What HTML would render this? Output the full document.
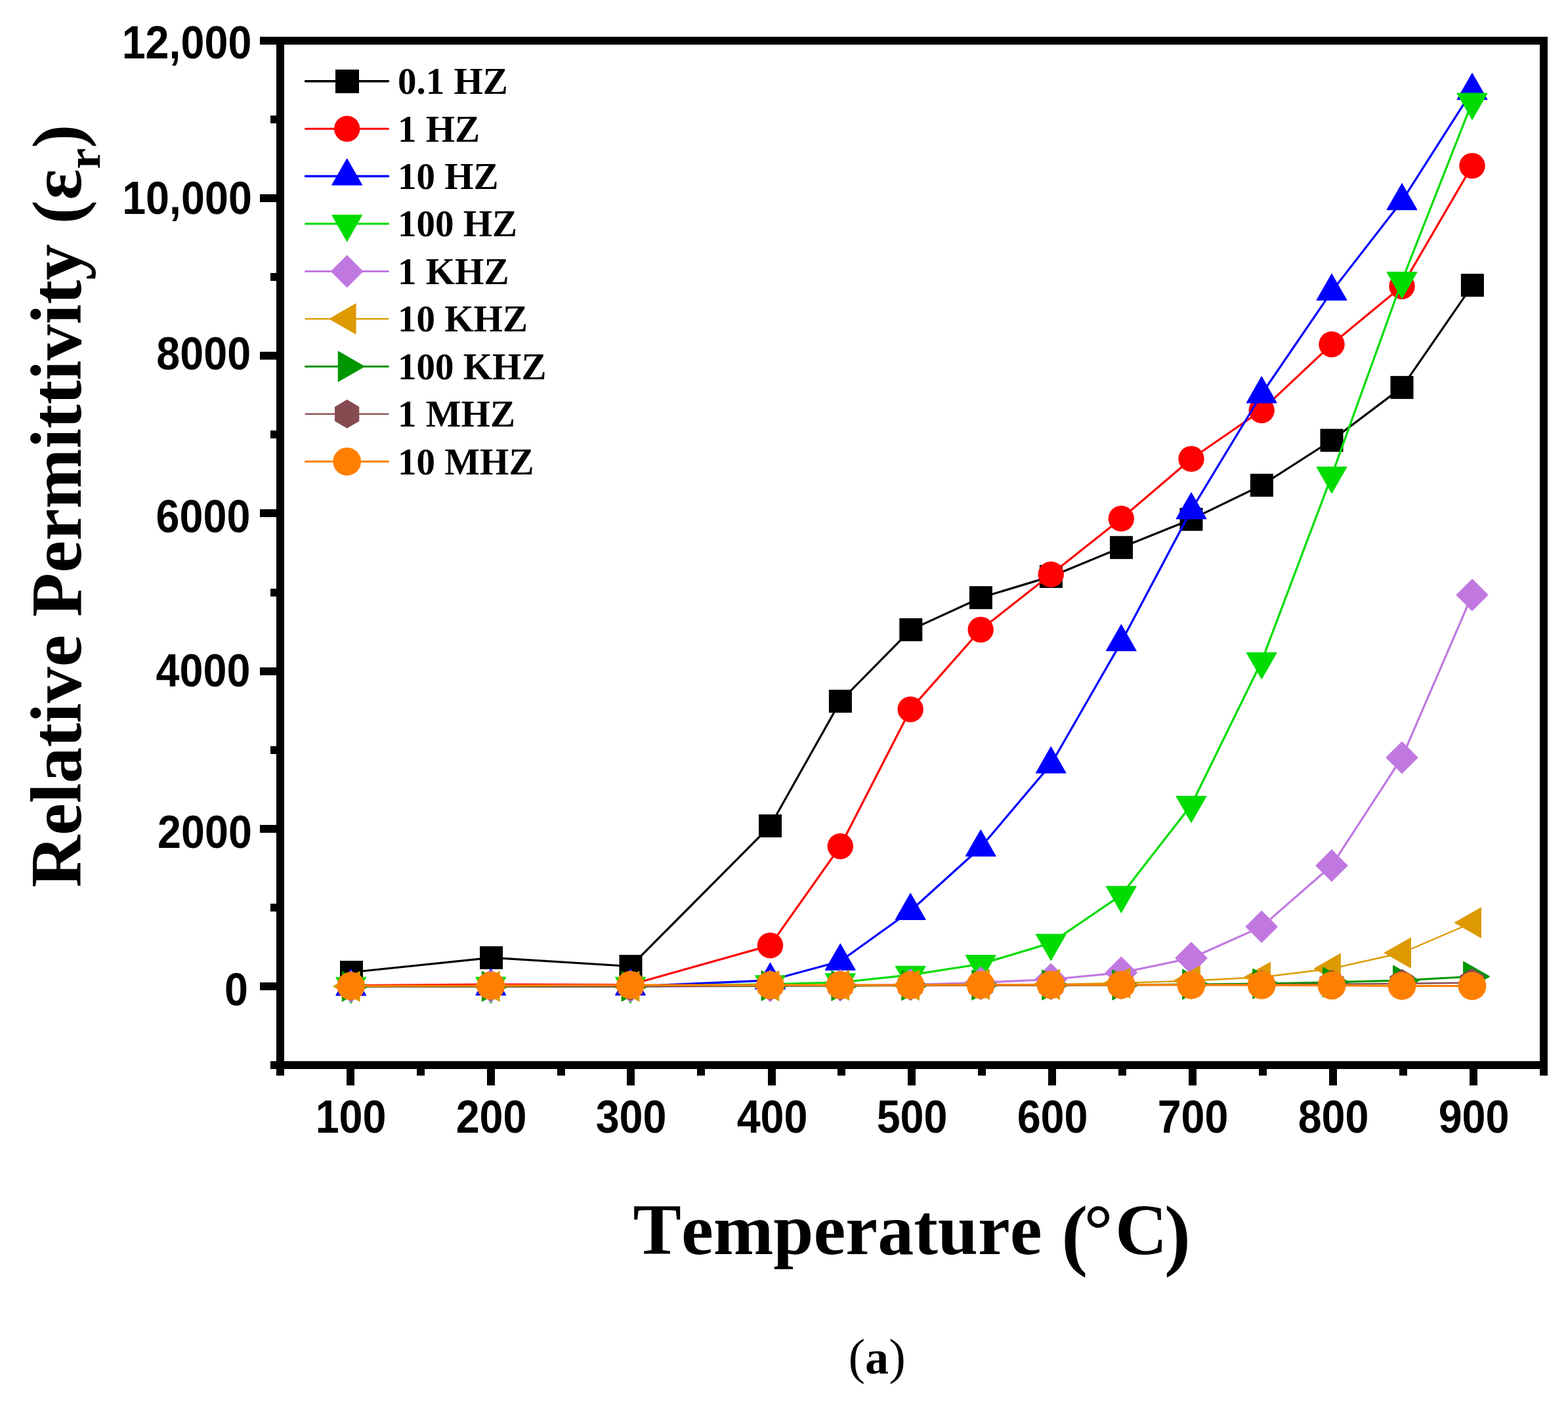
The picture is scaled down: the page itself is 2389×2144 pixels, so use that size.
<!DOCTYPE html>
<html lang="en">
<head>
<meta charset="utf-8">
<title>Relative Permittivity vs Temperature</title>
<style>
html,body{margin:0;padding:0;background:#fff;}
body{width:2389px;height:2144px;overflow:hidden;}
svg{display:block;}
text{font-kerning:none;}
.tick{font-family:"Liberation Sans",sans-serif;font-weight:700;font-size:64.7px;fill:#000;}
.ttl{font-family:"Liberation Serif",serif;font-weight:700;font-size:110px;fill:#000;}
.leg{font-family:"Liberation Serif",serif;font-weight:700;font-size:57px;fill:#000;}
.cap{font-family:"Liberation Serif",serif;font-size:81px;fill:#000;}
</style>
</head>
<body>
<svg width="2389" height="2144" viewBox="0 0 2389 2144">
<rect width="2389" height="2144" fill="#ffffff"/>

<g fill="#000" shape-rendering="crispEdges">
<rect x="421" y="56" width="12" height="1583"/>
<rect x="2346" y="56" width="12" height="1583"/>
<rect x="396" y="56" width="1962" height="12"/>
<rect x="412" y="1617" width="1946" height="12"/>
<rect x="396" y="1497" width="26" height="12"/>
<rect x="396" y="1257" width="26" height="12"/>
<rect x="396" y="1017" width="26" height="12"/>
<rect x="396" y="776" width="26" height="12"/>
<rect x="396" y="536" width="26" height="12"/>
<rect x="396" y="296" width="26" height="12"/>
<rect x="412" y="1377" width="10" height="12"/>
<rect x="412" y="1137" width="10" height="12"/>
<rect x="412" y="897" width="10" height="12"/>
<rect x="412" y="656" width="10" height="12"/>
<rect x="412" y="416" width="10" height="12"/>
<rect x="412" y="176" width="10" height="12"/>
<rect x="528" y="1628" width="12" height="26"/>
<rect x="742" y="1628" width="12" height="26"/>
<rect x="955" y="1628" width="12" height="26"/>
<rect x="1170" y="1628" width="12" height="26"/>
<rect x="1383" y="1628" width="12" height="26"/>
<rect x="1597" y="1628" width="12" height="26"/>
<rect x="1811" y="1628" width="12" height="26"/>
<rect x="2025" y="1628" width="12" height="26"/>
<rect x="2239" y="1628" width="12" height="26"/>
<rect x="635" y="1628" width="12" height="11"/>
<rect x="849" y="1628" width="12" height="11"/>
<rect x="1062" y="1628" width="12" height="11"/>
<rect x="1276" y="1628" width="12" height="11"/>
<rect x="1490" y="1628" width="12" height="11"/>
<rect x="1704" y="1628" width="12" height="11"/>
<rect x="1918" y="1628" width="12" height="11"/>
<rect x="2132" y="1628" width="12" height="11"/>
</g>
<g class="tick" text-anchor="end">
<text transform="translate(383.5 89.1) scale(1 1.087)">12,000</text>
<text transform="translate(384 325.6) scale(1 1.087)">10,000</text>
<text transform="translate(382.2 563.1) scale(1 1.087)">8000</text>
<text transform="translate(381.5 811.3) scale(1 1.087)">6000</text>
<text transform="translate(381.5 1046.3) scale(1 1.087)">4000</text>
<text transform="translate(384 1292.1) scale(1 1.087)">2000</text>
<text transform="translate(377.9 1532.1) scale(1 1.087)">0</text>
</g>
<g class="tick" text-anchor="middle">
<text transform="translate(534.6 1726.2) scale(1 1.087)">100</text>
<text transform="translate(748.6 1726.2) scale(1 1.087)">200</text>
<text transform="translate(961.6 1726.2) scale(1 1.087)">300</text>
<text transform="translate(1176.6 1726.2) scale(1 1.087)">400</text>
<text transform="translate(1389.6 1726.2) scale(1 1.087)">500</text>
<text transform="translate(1603.6 1726.2) scale(1 1.087)">600</text>
<text transform="translate(1817.6 1726.2) scale(1 1.087)">700</text>
<text transform="translate(2031.6 1726.2) scale(1 1.087)">800</text>
<text transform="translate(2245.6 1726.2) scale(1 1.087)">900</text>
</g>
<text class="ttl" text-anchor="middle" x="1389.3" y="1911">Temperature <tspan style="font-size:120px" dy="10" dx="2.2">(</tspan><tspan dy="-10" dx="-5.8">°</tspan><tspan dx="3.5">C</tspan><tspan style="font-size:120px" dy="10" dx="-4.4">)</tspan></text>
<text class="ttl" text-anchor="middle" transform="translate(123 771) rotate(-90)">Relative Permittivity <tspan style="font-size:108px" dy="0.5" dx="3.1">(</tspan><tspan dy="-0.5" dx="0.6">ε</tspan><tspan style="font-size:72px" dy="29">r</tspan><tspan style="font-size:108px" dy="-28.5" dx="0.2">)</tspan></text>
<text class="cap" y="2093"><tspan x="1292.5" style="font-size:77px">(</tspan><tspan x="1318" style="font-weight:700;font-size:72px">a</tspan><tspan x="1354.2" style="font-size:77px">)</tspan></text>
<g>
<polyline points="535.5,1481.5 748.6,1459.4 961,1472.5 1173.5,1258.5 1280.4,1068.5 1387.8,959.6 1494.4,910.7 1601.4,878.4 1708.5,834.3 1815,791.4 1922.4,739.4 2029,671 2136,590.4 2243.4,434.7" fill="none" stroke="#000000" stroke-width="3.2" stroke-linejoin="round"/>
<rect x="518" y="1464" width="35" height="35" fill="#000000"/>
<rect x="731.1" y="1441.9" width="35" height="35" fill="#000000"/>
<rect x="943.5" y="1455" width="35" height="35" fill="#000000"/>
<rect x="1156" y="1241" width="35" height="35" fill="#000000"/>
<rect x="1262.9" y="1051" width="35" height="35" fill="#000000"/>
<rect x="1370.3" y="942.1" width="35" height="35" fill="#000000"/>
<rect x="1476.9" y="893.2" width="35" height="35" fill="#000000"/>
<rect x="1583.9" y="860.9" width="35" height="35" fill="#000000"/>
<rect x="1691" y="816.8" width="35" height="35" fill="#000000"/>
<rect x="1797.5" y="773.9" width="35" height="35" fill="#000000"/>
<rect x="1904.9" y="721.9" width="35" height="35" fill="#000000"/>
<rect x="2011.5" y="653.5" width="35" height="35" fill="#000000"/>
<rect x="2118.5" y="572.9" width="35" height="35" fill="#000000"/>
<rect x="2225.9" y="417.2" width="35" height="35" fill="#000000"/>
</g>
<g>
<polyline points="534.7,1501.5 747.8,1500 960.5,1500.5 1173.5,1440.6 1280.3,1289.5 1387.2,1080.9 1494.2,959.5 1601.2,875.3 1708.3,790.3 1815,699.3 1922.2,625.2 2029,524.7 2136,436.2 2243,252.6" fill="none" stroke="#ff0000" stroke-width="3.2" stroke-linejoin="round"/>
<circle cx="534.7" cy="1501.5" r="19.7" fill="#ff0000"/>
<circle cx="747.8" cy="1500" r="19.7" fill="#ff0000"/>
<circle cx="960.5" cy="1500.5" r="19.7" fill="#ff0000"/>
<circle cx="1173.5" cy="1440.6" r="19.7" fill="#ff0000"/>
<circle cx="1280.3" cy="1289.5" r="19.7" fill="#ff0000"/>
<circle cx="1387.2" cy="1080.9" r="19.7" fill="#ff0000"/>
<circle cx="1494.2" cy="959.5" r="19.7" fill="#ff0000"/>
<circle cx="1601.2" cy="875.3" r="19.7" fill="#ff0000"/>
<circle cx="1708.3" cy="790.3" r="19.7" fill="#ff0000"/>
<circle cx="1815" cy="699.3" r="19.7" fill="#ff0000"/>
<circle cx="1922.2" cy="625.2" r="19.7" fill="#ff0000"/>
<circle cx="2029" cy="524.7" r="19.7" fill="#ff0000"/>
<circle cx="2136" cy="436.2" r="19.7" fill="#ff0000"/>
<circle cx="2243" cy="252.6" r="19.7" fill="#ff0000"/>
</g>
<g>
<polyline points="534.7,1503.5 747.8,1503 960.5,1503 1173.5,1493.8 1280.3,1464.8 1387.2,1388 1494.2,1291.3 1601.2,1164.7 1708.3,978.4 1815,777.3 1922.2,600.5 2029,444.1 2136,306.3 2243,138.3" fill="none" stroke="#0000ff" stroke-width="3.2" stroke-linejoin="round"/>
<polygon points="534.7,1476.9 557.5,1516.8 511.9,1516.8" fill="#0000ff" stroke="#0000ff" stroke-width="1.2" stroke-linejoin="round"/>
<polygon points="747.8,1476.4 770.6,1516.3 725,1516.3" fill="#0000ff" stroke="#0000ff" stroke-width="1.2" stroke-linejoin="round"/>
<polygon points="960.5,1476.4 983.3,1516.3 937.7,1516.3" fill="#0000ff" stroke="#0000ff" stroke-width="1.2" stroke-linejoin="round"/>
<polygon points="1173.5,1467.2 1196.3,1507.1 1150.7,1507.1" fill="#0000ff" stroke="#0000ff" stroke-width="1.2" stroke-linejoin="round"/>
<polygon points="1280.3,1438.2 1303.1,1478.1 1257.5,1478.1" fill="#0000ff" stroke="#0000ff" stroke-width="1.2" stroke-linejoin="round"/>
<polygon points="1387.2,1361.4 1410,1401.3 1364.4,1401.3" fill="#0000ff" stroke="#0000ff" stroke-width="1.2" stroke-linejoin="round"/>
<polygon points="1494.2,1264.7 1517,1304.6 1471.4,1304.6" fill="#0000ff" stroke="#0000ff" stroke-width="1.2" stroke-linejoin="round"/>
<polygon points="1601.2,1138.1 1624,1178 1578.4,1178" fill="#0000ff" stroke="#0000ff" stroke-width="1.2" stroke-linejoin="round"/>
<polygon points="1708.3,951.8 1731.1,991.7 1685.5,991.7" fill="#0000ff" stroke="#0000ff" stroke-width="1.2" stroke-linejoin="round"/>
<polygon points="1815,750.7 1837.8,790.6 1792.2,790.6" fill="#0000ff" stroke="#0000ff" stroke-width="1.2" stroke-linejoin="round"/>
<polygon points="1922.2,573.9 1945,613.8 1899.4,613.8" fill="#0000ff" stroke="#0000ff" stroke-width="1.2" stroke-linejoin="round"/>
<polygon points="2029,417.5 2051.8,457.4 2006.2,457.4" fill="#0000ff" stroke="#0000ff" stroke-width="1.2" stroke-linejoin="round"/>
<polygon points="2136,279.7 2158.8,319.6 2113.2,319.6" fill="#0000ff" stroke="#0000ff" stroke-width="1.2" stroke-linejoin="round"/>
<polygon points="2243,111.7 2265.8,151.6 2220.2,151.6" fill="#0000ff" stroke="#0000ff" stroke-width="1.2" stroke-linejoin="round"/>
</g>
<g>
<polyline points="534.7,1502.6 747.8,1502.5 960.5,1502.5 1173.5,1499.8 1280.3,1497 1387.2,1485.7 1494.2,1469 1601.2,1436.9 1708.3,1364 1815,1226.7 1922.2,1007.9 2029,724.9 2136,428 2243,155.5" fill="none" stroke="#00dc00" stroke-width="3.2" stroke-linejoin="round"/>
<polygon points="534.7,1529.2 557.5,1489.3 511.9,1489.3" fill="#00dc00" stroke="#00dc00" stroke-width="1.2" stroke-linejoin="round"/>
<polygon points="747.8,1529.1 770.6,1489.2 725,1489.2" fill="#00dc00" stroke="#00dc00" stroke-width="1.2" stroke-linejoin="round"/>
<polygon points="960.5,1529.1 983.3,1489.2 937.7,1489.2" fill="#00dc00" stroke="#00dc00" stroke-width="1.2" stroke-linejoin="round"/>
<polygon points="1173.5,1526.4 1196.3,1486.5 1150.7,1486.5" fill="#00dc00" stroke="#00dc00" stroke-width="1.2" stroke-linejoin="round"/>
<polygon points="1280.3,1523.6 1303.1,1483.7 1257.5,1483.7" fill="#00dc00" stroke="#00dc00" stroke-width="1.2" stroke-linejoin="round"/>
<polygon points="1387.2,1512.3 1410,1472.4 1364.4,1472.4" fill="#00dc00" stroke="#00dc00" stroke-width="1.2" stroke-linejoin="round"/>
<polygon points="1494.2,1495.6 1517,1455.7 1471.4,1455.7" fill="#00dc00" stroke="#00dc00" stroke-width="1.2" stroke-linejoin="round"/>
<polygon points="1601.2,1463.5 1624,1423.6 1578.4,1423.6" fill="#00dc00" stroke="#00dc00" stroke-width="1.2" stroke-linejoin="round"/>
<polygon points="1708.3,1390.6 1731.1,1350.7 1685.5,1350.7" fill="#00dc00" stroke="#00dc00" stroke-width="1.2" stroke-linejoin="round"/>
<polygon points="1815,1253.3 1837.8,1213.4 1792.2,1213.4" fill="#00dc00" stroke="#00dc00" stroke-width="1.2" stroke-linejoin="round"/>
<polygon points="1922.2,1034.5 1945,994.6 1899.4,994.6" fill="#00dc00" stroke="#00dc00" stroke-width="1.2" stroke-linejoin="round"/>
<polygon points="2029,751.5 2051.8,711.6 2006.2,711.6" fill="#00dc00" stroke="#00dc00" stroke-width="1.2" stroke-linejoin="round"/>
<polygon points="2136,454.6 2158.8,414.7 2113.2,414.7" fill="#00dc00" stroke="#00dc00" stroke-width="1.2" stroke-linejoin="round"/>
<polygon points="2243,182.1 2265.8,142.2 2220.2,142.2" fill="#00dc00" stroke="#00dc00" stroke-width="1.2" stroke-linejoin="round"/>
</g>
<g>
<polyline points="534.7,1503.3 747.8,1503 960.5,1503 1173.5,1502.4 1280.3,1501.6 1387.2,1500.5 1494.2,1497.3 1601.2,1492.5 1708.3,1482.2 1815,1460 1922.2,1412.1 2029,1319 2136,1154.4 2243,906.6" fill="none" stroke="#c078e0" stroke-width="3.2" stroke-linejoin="round"/>
<polygon points="534.7,1479.3 558.7,1503.3 534.7,1527.3 510.7,1503.3" fill="#c078e0" stroke="#c078e0" stroke-width="1.2" stroke-linejoin="round"/>
<polygon points="747.8,1479 771.8,1503 747.8,1527 723.8,1503" fill="#c078e0" stroke="#c078e0" stroke-width="1.2" stroke-linejoin="round"/>
<polygon points="960.5,1479 984.5,1503 960.5,1527 936.5,1503" fill="#c078e0" stroke="#c078e0" stroke-width="1.2" stroke-linejoin="round"/>
<polygon points="1173.5,1478.4 1197.5,1502.4 1173.5,1526.4 1149.5,1502.4" fill="#c078e0" stroke="#c078e0" stroke-width="1.2" stroke-linejoin="round"/>
<polygon points="1280.3,1477.6 1304.3,1501.6 1280.3,1525.6 1256.3,1501.6" fill="#c078e0" stroke="#c078e0" stroke-width="1.2" stroke-linejoin="round"/>
<polygon points="1387.2,1476.5 1411.2,1500.5 1387.2,1524.5 1363.2,1500.5" fill="#c078e0" stroke="#c078e0" stroke-width="1.2" stroke-linejoin="round"/>
<polygon points="1494.2,1473.3 1518.2,1497.3 1494.2,1521.3 1470.2,1497.3" fill="#c078e0" stroke="#c078e0" stroke-width="1.2" stroke-linejoin="round"/>
<polygon points="1601.2,1468.5 1625.2,1492.5 1601.2,1516.5 1577.2,1492.5" fill="#c078e0" stroke="#c078e0" stroke-width="1.2" stroke-linejoin="round"/>
<polygon points="1708.3,1458.2 1732.3,1482.2 1708.3,1506.2 1684.3,1482.2" fill="#c078e0" stroke="#c078e0" stroke-width="1.2" stroke-linejoin="round"/>
<polygon points="1815,1436 1839,1460 1815,1484 1791,1460" fill="#c078e0" stroke="#c078e0" stroke-width="1.2" stroke-linejoin="round"/>
<polygon points="1922.2,1388.1 1946.2,1412.1 1922.2,1436.1 1898.2,1412.1" fill="#c078e0" stroke="#c078e0" stroke-width="1.2" stroke-linejoin="round"/>
<polygon points="2029,1295 2053,1319 2029,1343 2005,1319" fill="#c078e0" stroke="#c078e0" stroke-width="1.2" stroke-linejoin="round"/>
<polygon points="2136,1130.4 2160,1154.4 2136,1178.4 2112,1154.4" fill="#c078e0" stroke="#c078e0" stroke-width="1.2" stroke-linejoin="round"/>
<polygon points="2243,882.6 2267,906.6 2243,930.6 2219,906.6" fill="#c078e0" stroke="#c078e0" stroke-width="1.2" stroke-linejoin="round"/>
</g>
<g>
<polyline points="534.7,1503 747.8,1503 960.5,1503 1173.5,1502.1 1280.3,1501.3 1387.2,1501.3 1494.2,1500.1 1601.2,1500.1 1708.3,1498 1815,1494.5 1922.2,1489 2029,1476 2136,1452 2243,1406" fill="none" stroke="#dc9a00" stroke-width="2.4" stroke-linejoin="round"/>
<polygon points="508.1,1503 548,1480.2 548,1525.8" fill="#dc9a00" stroke="#dc9a00" stroke-width="1.2" stroke-linejoin="round"/>
<polygon points="721.2,1503 761.1,1480.2 761.1,1525.8" fill="#dc9a00" stroke="#dc9a00" stroke-width="1.2" stroke-linejoin="round"/>
<polygon points="933.9,1503 973.8,1480.2 973.8,1525.8" fill="#dc9a00" stroke="#dc9a00" stroke-width="1.2" stroke-linejoin="round"/>
<polygon points="1146.9,1502.1 1186.8,1479.3 1186.8,1524.9" fill="#dc9a00" stroke="#dc9a00" stroke-width="1.2" stroke-linejoin="round"/>
<polygon points="1253.7,1501.3 1293.6,1478.5 1293.6,1524.1" fill="#dc9a00" stroke="#dc9a00" stroke-width="1.2" stroke-linejoin="round"/>
<polygon points="1360.6,1501.3 1400.5,1478.5 1400.5,1524.1" fill="#dc9a00" stroke="#dc9a00" stroke-width="1.2" stroke-linejoin="round"/>
<polygon points="1467.6,1500.1 1507.5,1477.3 1507.5,1522.9" fill="#dc9a00" stroke="#dc9a00" stroke-width="1.2" stroke-linejoin="round"/>
<polygon points="1574.6,1500.1 1614.5,1477.3 1614.5,1522.9" fill="#dc9a00" stroke="#dc9a00" stroke-width="1.2" stroke-linejoin="round"/>
<polygon points="1681.7,1498 1721.6,1475.2 1721.6,1520.8" fill="#dc9a00" stroke="#dc9a00" stroke-width="1.2" stroke-linejoin="round"/>
<polygon points="1788.4,1494.5 1828.3,1471.7 1828.3,1517.3" fill="#dc9a00" stroke="#dc9a00" stroke-width="1.2" stroke-linejoin="round"/>
<polygon points="1895.6,1489 1935.5,1466.2 1935.5,1511.8" fill="#dc9a00" stroke="#dc9a00" stroke-width="1.2" stroke-linejoin="round"/>
<polygon points="2002.4,1476 2042.3,1453.2 2042.3,1498.8" fill="#dc9a00" stroke="#dc9a00" stroke-width="1.2" stroke-linejoin="round"/>
<polygon points="2109.4,1452 2149.3,1429.2 2149.3,1474.8" fill="#dc9a00" stroke="#dc9a00" stroke-width="1.2" stroke-linejoin="round"/>
<polygon points="2216.4,1406 2256.3,1383.2 2256.3,1428.8" fill="#dc9a00" stroke="#dc9a00" stroke-width="1.2" stroke-linejoin="round"/>
</g>
<g>
<polyline points="534.7,1503 747.8,1503 960.5,1503 1173.5,1502 1280.3,1502 1387.2,1501.5 1494.2,1500.9 1601.2,1500.9 1708.3,1500.9 1815,1500 1922.2,1499 2029,1496.8 2136,1494 2243,1488" fill="none" stroke="#009600" stroke-width="3.2" stroke-linejoin="round"/>
<polygon points="561.3,1503 521.4,1480.2 521.4,1525.8" fill="#009600" stroke="#009600" stroke-width="1.2" stroke-linejoin="round"/>
<polygon points="774.4,1503 734.5,1480.2 734.5,1525.8" fill="#009600" stroke="#009600" stroke-width="1.2" stroke-linejoin="round"/>
<polygon points="987.1,1503 947.2,1480.2 947.2,1525.8" fill="#009600" stroke="#009600" stroke-width="1.2" stroke-linejoin="round"/>
<polygon points="1200.1,1502 1160.2,1479.2 1160.2,1524.8" fill="#009600" stroke="#009600" stroke-width="1.2" stroke-linejoin="round"/>
<polygon points="1306.9,1502 1267,1479.2 1267,1524.8" fill="#009600" stroke="#009600" stroke-width="1.2" stroke-linejoin="round"/>
<polygon points="1413.8,1501.5 1373.9,1478.7 1373.9,1524.3" fill="#009600" stroke="#009600" stroke-width="1.2" stroke-linejoin="round"/>
<polygon points="1520.8,1500.9 1480.9,1478.1 1480.9,1523.7" fill="#009600" stroke="#009600" stroke-width="1.2" stroke-linejoin="round"/>
<polygon points="1627.8,1500.9 1587.9,1478.1 1587.9,1523.7" fill="#009600" stroke="#009600" stroke-width="1.2" stroke-linejoin="round"/>
<polygon points="1734.9,1500.9 1695,1478.1 1695,1523.7" fill="#009600" stroke="#009600" stroke-width="1.2" stroke-linejoin="round"/>
<polygon points="1841.6,1500 1801.7,1477.2 1801.7,1522.8" fill="#009600" stroke="#009600" stroke-width="1.2" stroke-linejoin="round"/>
<polygon points="1948.8,1499 1908.9,1476.2 1908.9,1521.8" fill="#009600" stroke="#009600" stroke-width="1.2" stroke-linejoin="round"/>
<polygon points="2055.6,1496.8 2015.7,1474 2015.7,1519.6" fill="#009600" stroke="#009600" stroke-width="1.2" stroke-linejoin="round"/>
<polygon points="2162.6,1494 2122.7,1471.2 2122.7,1516.8" fill="#009600" stroke="#009600" stroke-width="1.2" stroke-linejoin="round"/>
<polygon points="2269.6,1488 2229.7,1465.2 2229.7,1510.8" fill="#009600" stroke="#009600" stroke-width="1.2" stroke-linejoin="round"/>
</g>
<g>
<polyline points="534.7,1503 747.8,1503 960.5,1503 1173.5,1502 1280.3,1502 1387.2,1502 1494.2,1501.5 1601.2,1501.5 1708.3,1501 1815,1500.8 1922.2,1500.2 2029,1499.7 2136,1498.7 2243,1497.5" fill="none" stroke="#864b50" stroke-width="2.4" stroke-linejoin="round"/>
<polygon points="534.7,1481.7 552.7,1492.3 552.7,1513.7 534.7,1524.3 516.7,1513.7 516.7,1492.3" fill="#864b50" stroke="#864b50" stroke-width="1.2" stroke-linejoin="round"/>
<polygon points="747.8,1481.7 765.8,1492.3 765.8,1513.7 747.8,1524.3 729.8,1513.7 729.8,1492.3" fill="#864b50" stroke="#864b50" stroke-width="1.2" stroke-linejoin="round"/>
<polygon points="960.5,1481.7 978.5,1492.3 978.5,1513.7 960.5,1524.3 942.5,1513.7 942.5,1492.3" fill="#864b50" stroke="#864b50" stroke-width="1.2" stroke-linejoin="round"/>
<polygon points="1173.5,1480.7 1191.5,1491.3 1191.5,1512.7 1173.5,1523.3 1155.5,1512.7 1155.5,1491.3" fill="#864b50" stroke="#864b50" stroke-width="1.2" stroke-linejoin="round"/>
<polygon points="1280.3,1480.7 1298.3,1491.3 1298.3,1512.7 1280.3,1523.3 1262.3,1512.7 1262.3,1491.3" fill="#864b50" stroke="#864b50" stroke-width="1.2" stroke-linejoin="round"/>
<polygon points="1387.2,1480.7 1405.2,1491.3 1405.2,1512.7 1387.2,1523.3 1369.2,1512.7 1369.2,1491.3" fill="#864b50" stroke="#864b50" stroke-width="1.2" stroke-linejoin="round"/>
<polygon points="1494.2,1480.2 1512.2,1490.8 1512.2,1512.2 1494.2,1522.8 1476.2,1512.2 1476.2,1490.8" fill="#864b50" stroke="#864b50" stroke-width="1.2" stroke-linejoin="round"/>
<polygon points="1601.2,1480.2 1619.2,1490.8 1619.2,1512.2 1601.2,1522.8 1583.2,1512.2 1583.2,1490.8" fill="#864b50" stroke="#864b50" stroke-width="1.2" stroke-linejoin="round"/>
<polygon points="1708.3,1479.7 1726.3,1490.3 1726.3,1511.7 1708.3,1522.3 1690.3,1511.7 1690.3,1490.3" fill="#864b50" stroke="#864b50" stroke-width="1.2" stroke-linejoin="round"/>
<polygon points="1815,1479.5 1833,1490.1 1833,1511.5 1815,1522.1 1797,1511.5 1797,1490.1" fill="#864b50" stroke="#864b50" stroke-width="1.2" stroke-linejoin="round"/>
<polygon points="1922.2,1478.9 1940.2,1489.5 1940.2,1510.9 1922.2,1521.5 1904.2,1510.9 1904.2,1489.5" fill="#864b50" stroke="#864b50" stroke-width="1.2" stroke-linejoin="round"/>
<polygon points="2029,1478.4 2047,1489 2047,1510.4 2029,1521 2011,1510.4 2011,1489" fill="#864b50" stroke="#864b50" stroke-width="1.2" stroke-linejoin="round"/>
<polygon points="2136,1477.4 2154,1488 2154,1509.4 2136,1520 2118,1509.4 2118,1488" fill="#864b50" stroke="#864b50" stroke-width="1.2" stroke-linejoin="round"/>
<polygon points="2243,1476.2 2261,1486.8 2261,1508.2 2243,1518.8 2225,1508.2 2225,1486.8" fill="#864b50" stroke="#864b50" stroke-width="1.2" stroke-linejoin="round"/>
</g>
<g>
<polyline points="534.7,1502.4 747.8,1502 960.5,1501 1173.5,1501.2 1280.3,1501.2 1387.2,1501.2 1494.2,1500.7 1601.2,1500.7 1708.3,1500.7 1815,1501 1922.2,1501.2 2029,1501.7 2136,1502.3 2243,1502.5" fill="none" stroke="#ff8000" stroke-width="3.2" stroke-linejoin="round"/>
<circle cx="534.7" cy="1502.4" r="21.4" fill="#ff8000"/>
<circle cx="747.8" cy="1502" r="21.4" fill="#ff8000"/>
<circle cx="960.5" cy="1501" r="21.4" fill="#ff8000"/>
<circle cx="1173.5" cy="1501.2" r="21.4" fill="#ff8000"/>
<circle cx="1280.3" cy="1501.2" r="21.4" fill="#ff8000"/>
<circle cx="1387.2" cy="1501.2" r="21.4" fill="#ff8000"/>
<circle cx="1494.2" cy="1500.7" r="21.4" fill="#ff8000"/>
<circle cx="1601.2" cy="1500.7" r="21.4" fill="#ff8000"/>
<circle cx="1708.3" cy="1500.7" r="21.4" fill="#ff8000"/>
<circle cx="1815" cy="1501" r="21.4" fill="#ff8000"/>
<circle cx="1922.2" cy="1501.2" r="21.4" fill="#ff8000"/>
<circle cx="2029" cy="1501.7" r="21.4" fill="#ff8000"/>
<circle cx="2136" cy="1502.3" r="21.4" fill="#ff8000"/>
<circle cx="2243" cy="1502.5" r="21.4" fill="#ff8000"/>
</g>
<g>
<line x1="465.5" y1="123.7" x2="591.5" y2="123.7" stroke="#000000" stroke-width="3.5" stroke-linecap="round"/>
<rect x="511" y="106" width="36" height="36" fill="#000000" shape-rendering="crispEdges"/>
<text class="leg" x="606" y="143">0.1 HZ</text>
<line x1="465.5" y1="196.2" x2="591.5" y2="196.2" stroke="#ff0000" stroke-width="3.0" stroke-linecap="round"/>
<circle cx="528.7" cy="196.2" r="19.7" fill="#ff0000"/>
<text class="leg" x="606" y="215.5">1 HZ</text>
<line x1="465.5" y1="268.6" x2="591.5" y2="268.6" stroke="#0000ff" stroke-width="3.5" stroke-linecap="round"/>
<polygon points="528.7,242 551.5,281.9 505.9,281.9" fill="#0000ff" stroke="#0000ff" stroke-width="1.2" stroke-linejoin="round"/>
<text class="leg" x="606" y="287.9">10 HZ</text>
<line x1="465.5" y1="341.1" x2="591.5" y2="341.1" stroke="#00dc00" stroke-width="3.0" stroke-linecap="round"/>
<polygon points="528.7,367.7 551.5,327.8 505.9,327.8" fill="#00dc00" stroke="#00dc00" stroke-width="1.2" stroke-linejoin="round"/>
<text class="leg" x="606" y="360.4">100 HZ</text>
<line x1="465.5" y1="413.5" x2="591.5" y2="413.5" stroke="#c078e0" stroke-width="3.0" stroke-linecap="round"/>
<polygon points="528.7,389.5 552.7,413.5 528.7,437.5 504.7,413.5" fill="#c078e0" stroke="#c078e0" stroke-width="1.2" stroke-linejoin="round"/>
<text class="leg" x="606" y="432.8">1 KHZ</text>
<line x1="465.5" y1="485.9" x2="591.5" y2="485.9" stroke="#dc9a00" stroke-width="2.2" stroke-linecap="round"/>
<polygon points="502.1,485.9 542,463.1 542,508.8" fill="#dc9a00" stroke="#dc9a00" stroke-width="1.2" stroke-linejoin="round"/>
<text class="leg" x="606" y="505.2">10 KHZ</text>
<line x1="465.5" y1="558.4" x2="591.5" y2="558.4" stroke="#009600" stroke-width="3.0" stroke-linecap="round"/>
<polygon points="555.3,558.4 515.4,535.6 515.4,581.2" fill="#009600" stroke="#009600" stroke-width="1.2" stroke-linejoin="round"/>
<text class="leg" x="606" y="577.7">100 KHZ</text>
<line x1="465.5" y1="630.9" x2="591.5" y2="630.9" stroke="#864b50" stroke-width="2.2" stroke-linecap="round"/>
<polygon points="528.7,609.6 546.7,620.2 546.7,641.5 528.7,652.1 510.7,641.5 510.7,620.2" fill="#864b50" stroke="#864b50" stroke-width="1.2" stroke-linejoin="round"/>
<text class="leg" x="606" y="650.1">1 MHZ</text>
<line x1="465.5" y1="703.3" x2="591.5" y2="703.3" stroke="#ff8000" stroke-width="3.0" stroke-linecap="round"/>
<circle cx="528.7" cy="703.3" r="21.4" fill="#ff8000"/>
<text class="leg" x="606" y="722.6">10 MHZ</text>
</g>
</svg>
</body>
</html>
